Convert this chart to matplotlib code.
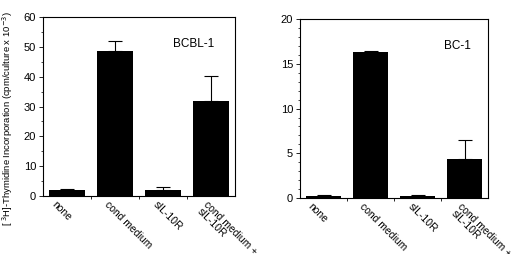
import numpy as np
import matplotlib.pyplot as plt
from matplotlib.ticker import MultipleLocator

categories = ['none', 'cond medium', 'sIL-10R', 'cond medium +\nsIL-10R']
bcbl_values = [2.0, 48.5, 2.2, 31.7]
bcbl_errors = [0.5, 3.5, 0.8, 8.6]
bc1_values = [0.25, 16.3, 0.25, 4.4]
bc1_errors = [0.05, 0.1, 0.05, 2.1]

plt.rcParams['font.family'] = ['Liberation Sans', 'DejaVu Sans']
fig = plt.figure(figsize=(5.2, 2.54), dpi=100)

ax1 = fig.add_axes([0.083, 0.228, 0.369, 0.705])
ax2 = fig.add_axes([0.577, 0.22, 0.362, 0.705])

def draw(ax, values, errors, ymax, major, minor, name, name_xy):
    x = np.arange(len(categories))
    ax.bar(x, values, width=0.74, color='black')
    ax.errorbar(x, values, yerr=[np.zeros(len(errors)), errors], fmt='none',
                ecolor='black', elinewidth=0.8, capsize=5, capthick=0.8)
    ax.set_xlim(-0.5, 3.5)
    ax.set_ylim(0, ymax)
    ax.yaxis.set_major_locator(MultipleLocator(major))
    ax.yaxis.set_minor_locator(MultipleLocator(minor))
    ax.set_xticks([0.5, 1.5, 2.5])
    ax.set_xticklabels([])
    ax.tick_params(axis='x', length=2, width=0.6)
    ax.tick_params(axis='y', which='major', length=3, width=0.6, labelsize=8, pad=2)
    ax.tick_params(axis='y', which='minor', length=1.5, width=0.5)
    for s in ax.spines.values():
        s.set_linewidth(0.8)
    offs = [-0.22, -0.12, -0.1, -0.05]
    for i, lab in enumerate(categories):
        ax.text(i + offs[i], -ymax * 0.02, lab, rotation=-45, rotation_mode='anchor',
                ha='left', va='top', fontsize=7.5, transform=ax.transData,
                linespacing=0.9)
    ax.text(name_xy[0], name_xy[1], name, fontsize=8.5, ha='left', va='center')

draw(ax1, bcbl_values, bcbl_errors, 60, 10, 5, 'BCBL-1', (2.2, 51))
draw(ax2, bc1_values, bc1_errors, 20, 5, 1, 'BC-1', (2.55, 17))

ax1.set_ylabel('[ $^{3}$H]-Thymidine Incorporation (cpm/culture x 10$^{-3}$)',
               fontsize=6.8)
ax1.yaxis.set_label_coords(-0.145, 0.43)

fig.savefig('out.png', dpi=100)
